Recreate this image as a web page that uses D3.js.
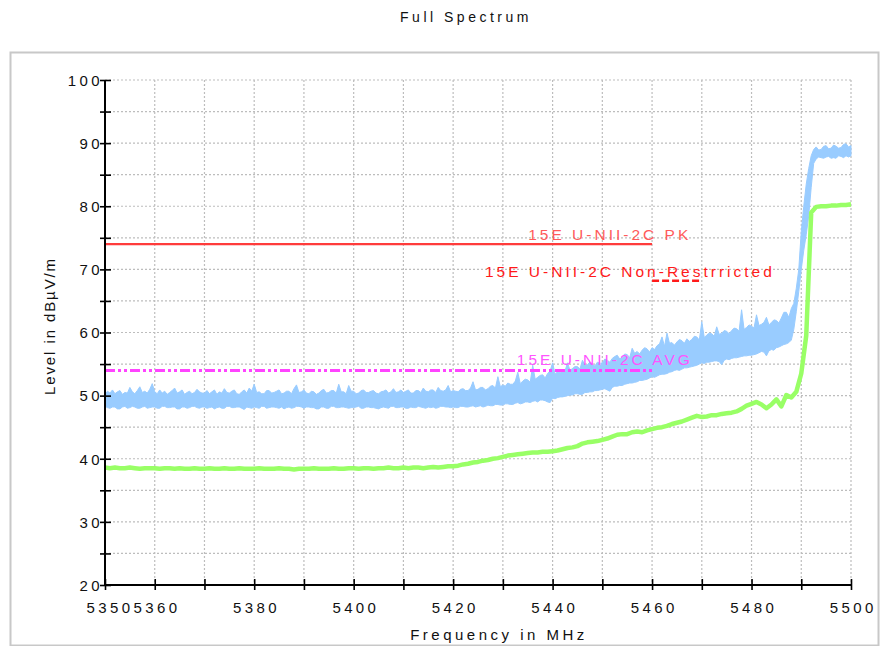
<!DOCTYPE html>
<html>
<head>
<meta charset="utf-8">
<script src="https://cdn.jsdelivr.net/npm/d3@7"></script>
<style>
  body { margin: 0; background: #fff; }
  svg text { font-family: "Liberation Sans", Arial, sans-serif; }
</style>
</head>
<body>
<svg id="chart" width="880" height="646"></svg>
<script>
// ---- data ----------------------------------------------------------------
const chartTitle = "Full Spectrum";
const xAxisTitle = "Frequency in MHz";
const yAxisTitle = "Level in dBµV/m";

const startFreq = 5350;
// peak trace sampled every 0.5 MHz, average trace every 1 MHz
const peakStepMHz = 0.5;
const avgStepMHz = 1;

// peak detector trace: upper and lower edge of the noise band (dBµV/m)
const peakHigh = [
  50.2, 50.7, 50.4, 50.9, 50.3, 50.6, 50.8, 50.2, 50.5, 50.4,
  51.3, 50.6, 50.3, 50.8, 51.4, 50.5, 50.7, 50.4, 51.0, 51.9,
  50.6, 50.3, 50.9, 50.4, 50.7, 50.2, 50.5, 50.8, 51.2, 50.4,
  50.6, 50.9, 50.2, 50.5, 50.7, 50.3, 50.5, 51.0, 50.6, 50.4,
  50.4, 50.8, 50.3, 50.6, 50.9, 50.2, 50.6, 50.4, 51.1, 50.5,
  50.4, 50.7, 50.9, 50.3, 50.2, 50.6, 50.9, 50.4, 51.2, 50.7,
  51.8, 50.5, 50.6, 50.3, 50.3, 50.8, 50.8, 50.4, 50.5, 50.7,
  50.9, 50.3, 50.4, 50.7, 50.7, 50.3, 51.1, 51.7, 50.5, 50.6,
  50.9, 50.4, 50.3, 50.7, 50.6, 50.2, 50.4, 50.8, 51.0, 50.4,
  50.5, 50.8, 50.8, 50.4, 51.8, 50.6, 50.6, 50.3, 51.6, 50.7,
  50.7, 50.3, 50.4, 50.8, 50.9, 50.5, 50.5, 50.7, 50.8, 50.4,
  50.3, 50.6, 50.7, 50.9, 50.4, 50.6, 51.1, 50.5, 50.6, 50.9,
  50.5, 50.7, 50.9, 50.4, 50.4, 50.8, 50.8, 50.5, 51.2, 50.7,
  50.6, 50.9, 50.9, 50.5, 51.3, 50.8, 50.7, 50.9, 51.6, 50.6,
  50.8, 50.7, 50.6, 51.0, 51.1, 50.8, 50.8, 51.2, 52.2, 50.9,
  51.0, 51.3, 51.3, 50.9, 51.1, 51.5, 51.6, 51.2, 53.0, 51.4,
  51.7, 51.5, 52.0, 51.8, 51.8, 52.3, 53.7, 51.9, 52.3, 52.6,
  52.5, 52.1, 54.8, 52.6, 52.9, 53.2, 53.3, 52.8, 53.5, 53.9,
  55.2, 53.4, 53.8, 53.6, 54.1, 53.9, 55.2, 54.0, 54.3, 54.6,
  54.6, 54.2, 55.6, 54.8, 54.9, 55.3, 55.0, 54.7, 55.3, 55.1,
  55.2, 55.8, 55.6, 55.3, 55.9, 56.2, 56.4, 55.8, 56.1, 56.6,
  56.5, 56.0, 57.5, 56.7, 57.0, 56.6, 57.2, 57.6, 57.4, 56.9,
  57.6, 57.3, 57.9, 58.2, 59.3, 57.8, 59.9, 58.3, 58.4, 58.0,
  58.5, 58.9, 58.7, 58.3, 59.0, 58.6, 58.9, 59.4, 59.3, 58.8,
  61.7, 59.2, 59.6, 59.9, 59.8, 59.4, 60.9, 59.7, 59.9, 60.3,
  60.2, 59.8, 60.3, 60.7, 60.6, 60.2, 63.6, 60.5, 60.8, 61.2,
  61.0, 60.7, 62.8, 61.1, 61.3, 61.6, 62.4, 61.2, 61.6, 62.0,
  61.9, 61.5, 62.3, 63.2, 63.2, 62.4, 63.8, 64.6, 67.0, 70.0,
  76.0, 80.0, 83.5, 86.0, 88.0, 89.0, 89.4, 88.9, 89.0, 89.5,
  89.6, 89.1, 89.2, 89.7, 89.5, 89.2, 89.3, 89.8, 89.9, 89.4,
  89.6
];
const peakLow = [
  48.3, 48.1, 48.0, 48.2, 48.2, 47.9, 47.9, 48.2, 48.3, 48.0,
  48.1, 48.3, 48.2, 48.0, 48.0, 48.2, 48.3, 48.0, 48.1, 48.2,
  48.2, 48.0, 48.0, 48.3, 48.3, 48.1, 48.1, 48.2, 48.2, 47.9,
  47.9, 48.2, 48.2, 48.0, 48.1, 48.3, 48.3, 48.1, 48.0, 48.2,
  48.2, 48.0, 48.1, 48.2, 47.9, 48.1, 48.2, 48.0, 48.0, 48.3,
  48.3, 48.1, 48.1, 48.2, 48.2, 48.0, 47.8, 48.2, 48.1, 48.0,
  48.2, 48.1, 48.0, 48.3, 48.3, 48.0, 48.1, 48.2, 48.2, 48.1,
  48.0, 48.2, 47.9, 48.1, 48.2, 48.0, 48.1, 48.3, 48.3, 48.2,
  48.0, 48.2, 48.2, 48.1, 48.1, 47.9, 47.9, 48.2, 48.2, 48.0,
  48.0, 48.3, 48.3, 48.1, 48.1, 48.2, 48.2, 48.1, 48.0, 48.1,
  48.1, 48.2, 48.3, 48.0, 48.0, 48.2, 48.2, 48.1, 48.1, 48.0,
  47.9, 48.1, 48.2, 48.1, 48.0, 48.3, 48.3, 48.1, 48.1, 48.2,
  48.2, 48.0, 48.0, 48.2, 48.1, 48.1, 48.3, 48.2, 48.1, 48.0,
  48.2, 48.1, 48.2, 48.0, 48.1, 48.3, 48.3, 48.2, 48.2, 48.1,
  48.2, 48.1, 48.1, 48.3, 48.3, 48.2, 48.2, 48.3, 48.4, 48.2,
  48.3, 48.4, 48.2, 48.3, 48.5, 48.4, 48.4, 48.6, 48.6, 48.5,
  48.5, 48.7, 48.7, 48.6, 48.6, 48.8, 48.9, 48.7, 48.8, 49.0,
  49.0, 48.9, 49.1, 49.2, 49.0, 49.3, 49.3, 49.2, 49.0, 48.9,
  49.6, 49.5, 49.7, 49.8, 49.8, 49.9, 50.0, 50.1, 50.1, 50.3,
  50.3, 50.2, 50.2, 50.5, 50.5, 50.6, 50.6, 50.8, 50.8, 50.9,
  51.0, 51.1, 50.9, 50.7, 51.3, 51.5, 51.5, 51.6, 51.6, 51.8,
  51.9, 52.0, 52.0, 52.1, 52.2, 52.4, 52.4, 52.5, 52.6, 52.8,
  53.0, 52.9, 53.1, 53.3, 53.4, 53.4, 53.5, 53.7, 53.8, 54.0,
  54.1, 54.0, 54.2, 54.4, 54.4, 54.5, 54.6, 54.7, 54.8, 55.0,
  55.2, 55.1, 55.3, 55.3, 55.4, 55.5, 55.5, 55.4, 54.9, 55.6,
  55.8, 55.7, 55.9, 56.0, 56.0, 56.1, 56.2, 56.3, 56.3, 56.4,
  56.4, 56.5, 56.6, 56.8, 57.0, 56.9, 56.3, 57.1, 57.3, 57.2,
  57.6, 57.7, 57.9, 58.1, 58.2, 58.4, 58.8, 60.5, 63.3, 66.5,
  70.0, 73.0, 75.5, 78.5, 83.0, 86.8, 87.5, 87.8, 87.7, 87.6,
  87.8, 87.9, 87.6, 87.7, 87.6, 88.0, 87.9, 87.7, 88.0, 87.8,
  88.0
];
// average detector trace (dBµV/m)
const average = [
  38.6, 38.5, 38.6, 38.5, 38.5, 38.6, 38.5, 38.4, 38.5, 38.5,
  38.5, 38.4, 38.5, 38.5, 38.4, 38.5, 38.4, 38.4, 38.5, 38.4,
  38.4, 38.5, 38.4, 38.4, 38.5, 38.4, 38.4, 38.5, 38.4, 38.4,
  38.4, 38.5, 38.4, 38.4, 38.4, 38.5, 38.4, 38.4, 38.3, 38.4,
  38.4, 38.4, 38.5, 38.4, 38.4, 38.4, 38.5, 38.4, 38.4, 38.5,
  38.5, 38.4, 38.5, 38.5, 38.4, 38.5, 38.5, 38.6, 38.5, 38.5,
  38.6, 38.5, 38.6, 38.6, 38.5, 38.6, 38.7, 38.6, 38.7, 38.8,
  38.8, 38.9, 39.1, 39.2, 39.4, 39.5, 39.7, 39.8, 40.0, 40.1,
  40.3, 40.5, 40.6, 40.7, 40.8, 40.9, 41.0, 41.0, 41.1, 41.1,
  41.2, 41.3, 41.5, 41.7, 41.8, 42.0, 42.4, 42.6, 42.7, 42.8,
  43.0, 43.2, 43.5, 43.8, 43.9, 43.9, 44.2, 44.3, 44.2, 44.5,
  44.7, 44.9, 45.0, 45.2, 45.5, 45.7, 45.9, 46.2, 46.5, 46.8,
  46.6, 46.7, 46.9, 46.9, 47.1, 47.2, 47.3, 47.5, 47.9, 48.4,
  48.7, 49.0, 48.6, 48.0, 48.6, 49.4, 48.3, 50.1, 49.7, 50.6,
  53.5, 59.5, 79.0, 79.9, 80.0, 80.0, 80.1, 80.1, 80.2, 80.2,
  80.3
];

// limit lines
const limitNames  = ["15E U-NII-2C PK", "15E U-NII-2C Non-Restrricted", "15E U-NII-2C AVG"];
const limitLevels = [74, 68.2, 54];
const limitStart  = [5350, 5460, 5350];
const limitEnd    = [5460, 5470, 5460];

// axes
const xDomain = [5350, 5500];
const yDomain = [20, 100];
const xTickValues = [5350, 5360, 5370, 5380, 5390, 5400, 5410, 5420, 5430, 5440, 5450, 5460, 5470, 5480, 5490, 5500];
const xTickLabels = [5350, 5360, 5380, 5400, 5420, 5440, 5460, 5480, 5500];
const yTickValues = [20, 25, 30, 35, 40, 45, 50, 55, 60, 65, 70, 75, 80, 85, 90, 95, 100];
const yTickLabels = [20, 30, 40, 50, 60, 70, 80, 90, 100];

// ---- drawing -------------------------------------------------------------
const svg = d3.select("#chart");
const plot = { left: 105, right: 851, top: 80, bottom: 585 };

const x = d3.scaleLinear().domain(xDomain).range([plot.left, plot.right]);
const y = d3.scaleLinear().domain(yDomain).range([plot.bottom, plot.top]);

// outer frame
svg.append("rect")
  .attr("x", 10.5).attr("y", 52.5).attr("width", 868).attr("height", 593)
  .attr("fill", "none").attr("stroke", "#c8c8c8").attr("stroke-width", 2);

// title
svg.append("text")
  .attr("x", 466).attr("y", 22)
  .attr("text-anchor", "middle")
  .attr("font-size", 14).attr("letter-spacing", 3.5)
  .attr("fill", "#111")
  .text(chartTitle);

// grid
const grid = svg.append("g").attr("stroke", "#bdbdbd").attr("stroke-width", 1.2)
  .attr("stroke-dasharray", "2,2");
grid.selectAll("line.v").data(xTickValues.slice(1)).join("line")
  .attr("x1", d => x(d)).attr("x2", d => x(d))
  .attr("y1", plot.top).attr("y2", plot.bottom);
grid.selectAll("line.h").data(yTickValues.slice(1)).join("line")
  .attr("x1", plot.left).attr("x2", plot.right)
  .attr("y1", d => y(d)).attr("y2", d => y(d));

// peak trace as noise band
const band = d3.area()
  .x((d, i) => x(startFreq + i * peakStepMHz))
  .y0((d, i) => y(peakLow[i]))
  .y1(d => y(d));
svg.append("path")
  .datum(peakHigh)
  .attr("d", band)
  .attr("fill", "#99ccff")
  .attr("stroke", "#99ccff").attr("stroke-width", 1)
  .attr("stroke-linejoin", "miter");

// average trace
const avgLine = d3.line()
  .x((d, i) => x(startFreq + i * avgStepMHz))
  .y(d => y(d));
svg.append("path")
  .datum(average)
  .attr("d", avgLine)
  .attr("fill", "none")
  .attr("stroke", "#99ff66").attr("stroke-width", 4.5)
  .attr("stroke-linejoin", "round");

// limit lines
const limitColors = ["#ff3b3b", "#ff1a1a", "#ff44ff"];
const limitDash = [null, "7,3", "10,3,3,3,3,3"];
const limitWidth = [2.2, 2.6, 3];
limitNames.forEach((name, i) => {
  svg.append("line")
    .attr("x1", x(limitStart[i])).attr("x2", x(limitEnd[i]))
    .attr("y1", y(limitLevels[i])).attr("y2", y(limitLevels[i]))
    .attr("stroke", limitColors[i])
    .attr("stroke-width", limitWidth[i])
    .attr("stroke-dasharray", limitDash[i]);
});

// limit labels
const labelColors = ["#ff5a5a", "#ff1a1a", "#ff55ff"];
const labelStartFreq = [5435.1, 5426.4, 5432.8];
const labelDy = [-4, -4, -5];
limitNames.forEach((name, i) => {
  svg.append("text")
    .attr("x", x(labelStartFreq[i]))
    .attr("y", y(limitLevels[i]) + labelDy[i])
    .attr("font-size", 15.5).attr("letter-spacing", 3)
    .attr("fill", labelColors[i])
    .text(name);
});

// axes
const yAxis = d3.axisLeft(y).tickValues(yTickValues).tickSize(5)
  .tickFormat(d => yTickLabels.includes(d) ? d : "");
const yg = svg.append("g").attr("transform", `translate(${plot.left},0)`).call(yAxis);
yg.select(".domain").attr("stroke", "#000").attr("stroke-width", 2)
  .attr("d", `M0,${plot.top}V${plot.bottom}`);
yg.selectAll(".tick line").attr("x1", 6).attr("stroke", "#000").attr("stroke-width", 1.6);
yg.selectAll(".tick text")
  .attr("x", -2).attr("dy", "0.35em")
  .attr("font-size", 15).attr("letter-spacing", 3.4)
  .attr("font-family", "Liberation Sans, Arial, sans-serif")
  .attr("fill", "#111");

const xAxis = d3.axisBottom(x).tickValues(xTickValues).tickSize(5)
  .tickFormat(d => xTickLabels.includes(d) ? d : "");
const xg = svg.append("g").attr("transform", `translate(0,${plot.bottom})`).call(xAxis);
xg.select(".domain").attr("stroke", "#000").attr("stroke-width", 2)
  .attr("d", `M${plot.left},0H${plot.right}`);
xg.selectAll(".tick line").attr("y1", -6).attr("stroke", "#000").attr("stroke-width", 1.6);
xg.selectAll(".tick text")
  .attr("y", 17).attr("dy", "0.71em")
  .attr("dx", d => d === xDomain[0] ? 4.5 : 1.7)   // first label nudged off the axis corner
  .attr("font-size", 15).attr("letter-spacing", 3.4)
  .attr("font-family", "Liberation Sans, Arial, sans-serif")
  .attr("fill", "#111");

// axis titles
svg.append("text")
  .attr("x", 499).attr("y", 640)
  .attr("text-anchor", "middle")
  .attr("font-size", 15).attr("letter-spacing", 3.5)
  .attr("fill", "#111")
  .text(xAxisTitle);
svg.append("text")
  .attr("transform", "translate(55,326) rotate(-90)")
  .attr("text-anchor", "middle")
  .attr("font-size", 15).attr("letter-spacing", 1.9)
  .attr("fill", "#111")
  .text(yAxisTitle);
</script>
</body>
</html>
